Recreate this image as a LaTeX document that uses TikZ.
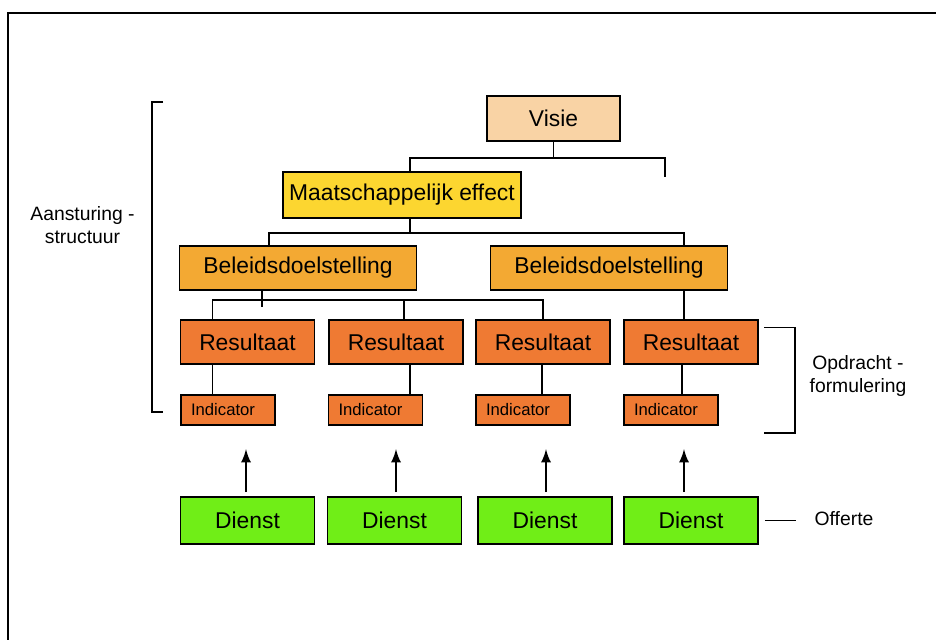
\documentclass[tikz,border=0pt]{standalone}
\usepackage{fontspec}
\setmainfont{Liberation Sans}
\usetikzlibrary{arrows,positioning}
\definecolor{visie}{HTML}{F9D3A5}
\definecolor{effect}{HTML}{FCD630}
\definecolor{beleid}{HTML}{F3A933}
\definecolor{result}{HTML}{EF7A33}
\definecolor{dienst}{HTML}{70EE17}

\begin{document}
\begin{tikzpicture} [
    x = 0.02cm, y = -0.02cm,
    every node/.style = { inner sep = 0 },
    box/.style = { draw, line width = 1pt, font = \fontsize{13}{15}\selectfont, minimum height = 0.88cm },
    indicatorbox/.style = { draw, line width = 1pt, fill = result, font = \fontsize{9.5}{11}\selectfont,
      text width = 1.48cm, inner xsep = 0.2cm, align = left, minimum height = 0.6cm },
    sidetext/.style = { align = center, font = \fontsize{11}{13.5}\selectfont },
    verbinding/.style = { line width = 1pt },
    pijl/.style = { line width = 1.6pt, -latex }
    ]

    \useasboundingbox (0,0) rectangle (936,639);
    \draw [line width = 1.2pt] (8,13) rectangle (950,660);

    \node [box, fill=visie, minimum width=2.66cm, minimum height=0.9cm] (V) at (553.5,118.5) {Visie};
    \node [box, fill=effect, minimum width=4.76cm, minimum height=0.92cm] (M) at (402,195) {Maatschappelijk effect};
    \node [box, fill=beleid, minimum width=4.74cm] (B1) at (298,268) {Beleidsdoelstelling};
    \node [box, fill=beleid, minimum width=4.74cm] (B2) at (609,268) {Beleidsdoelstelling};
    \foreach \n/\x in {1/247.5, 2/396, 3/543, 4/691}
      \node [box, fill=result, minimum width=2.68cm] (R\n) at (\x,342) {Resultaat};
    \foreach \n/\x in {1/228, 2/375.5, 3/523, 4/671}
      \node [indicatorbox] (I\n) at (\x,410) {Indicator};
    \foreach \n/\x in {1/247.5, 2/394.5, 3/545, 4/691}
      \node [box, fill=dienst, minimum width=2.68cm, minimum height=0.94cm] (D\n) at (\x,520.5) {Dienst};

    \node [sidetext] (aansturing) at (82.5,225) {Aansturing -\\structuur};
    \node [sidetext] (opdracht) at (858,376) {Opdracht -\\formulering};
    \node [sidetext] (offerte) at (844,519) {Offerte};
    \coordinate (open) at (665,177);

    \draw [verbinding] (V.south) -- ++(0,16) coordinate (vbar);
    \draw [verbinding] ([xshift=0.16cm]M.north) |- (vbar) -| (open);
    \draw [verbinding] ([xshift=0.16cm]M.south) -- ++(0,14) coordinate (mbar);
    \draw [verbinding] ([xshift=-0.58cm]B1.north) |- (mbar) -| ([xshift=1.5cm]B2.north);
    \draw [verbinding] ([xshift=-0.72cm]B1.south) -- ++(0,16);
    \draw [verbinding] ([xshift=-0.7cm]R1.north) -- ++(0,-19) coordinate (rbar) -- (rbar -| R3.north) -- (R3.north);
    \draw [verbinding] ([xshift=0.16cm]R2.north) -- ++(0,-19);
    \draw [verbinding] ([xshift=1.5cm]B2.south) -- ([xshift=-0.14cm]R4.north);
    \foreach \n/\dx in {1/-0.7, 2/0.28, 3/-0.02, 4/-0.18}
      \draw [verbinding] ([xshift=\dx cm]R\n.south) coordinate (t) -- (t |- I\n.north);
    \foreach \n/\dx in {1/-0.03, 2/0.03, 3/0.02, 4/-0.14}
      \draw [pijl] ([xshift=\dx cm, yshift=0.08cm]D\n.north) -- ++(0,-43);

    \draw [verbinding] (163,102) -- (152,102) -- (152,412) -- (163,412);
    \draw [verbinding] (764,327.5) -- (795,327.5) -- (795,433) -- (764,433);
    \draw [verbinding] ([xshift=0.12cm]D4.east) -- ++(31,0);
  \end{tikzpicture}
\end{document}
